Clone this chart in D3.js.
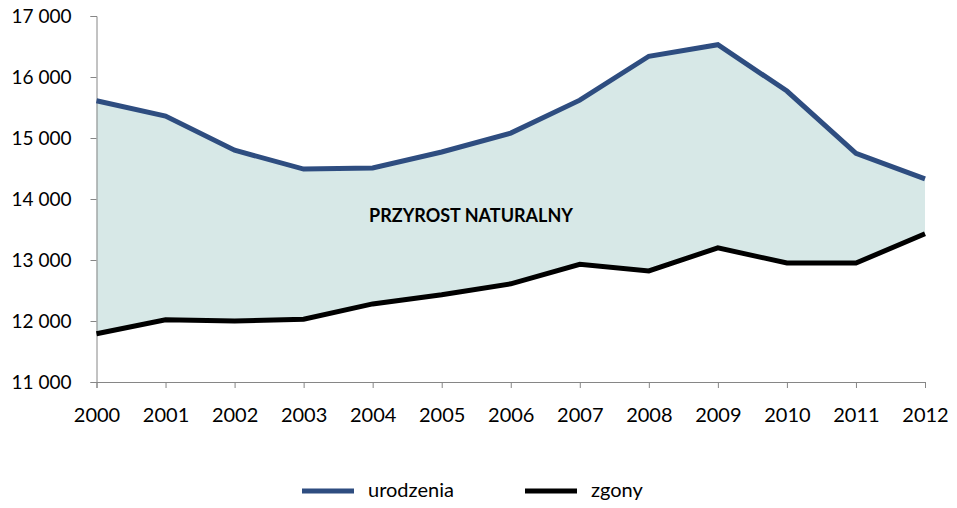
<!DOCTYPE html>
<html>
<head>
<meta charset="utf-8">
<script src="https://cdn.jsdelivr.net/npm/d3@7"></script>
<style>
  body { margin: 0; background: #fff; }
  text { font-family: Lato, "Open Sans", sans-serif; fill: #000; }
</style>
</head>
<body>
<div id="chart"></div>
<script>
// data
let years = [2000, 2001, 2002, 2003, 2004, 2005, 2006, 2007, 2008, 2009, 2010, 2011, 2012]
let urodzenia = [15610, 15360, 14800, 14490, 14510, 14770, 15080, 15620, 16340, 16530, 15770, 14750, 14330]
let zgony = [11790, 12020, 12000, 12030, 12280, 12430, 12610, 12930, 12820, 13200, 12950, 12950, 13430]
let yTicks = [11000, 12000, 13000, 14000, 15000, 16000, 17000]

let width = 957, height = 508

let svg = d3.select("#chart")
    .append("svg")
    .attr("width", width)
    .attr("height", height)

let x = d3.scaleLinear()
    .domain([2000, 2012])
    .range([96.5, 925])

let y = d3.scaleLinear()
    .domain([11000, 17000])
    .range([382, 16])

let data = years.map((yr, i) => ({year: yr, u: urodzenia[i], z: zgony[i]}))

// filled region between the two series
let area = d3.area()
    .x(d => x(d.year))
    .y0(d => y(d.z))
    .y1(d => y(d.u))

svg.append("path")
    .datum(data)
    .attr("d", area)
    .attr("fill", "#d7e8e7")

// y axis
let yAxis = d3.axisLeft(y)
    .tickValues(yTicks)
    .tickSize(6)
    .tickFormat(d => d3.format(",")(d).replace(",", " "))

let gy = svg.append("g")
    .attr("transform", "translate(96.5,0)")
    .call(yAxis)
gy.select(".domain").attr("stroke", "#868686")
gy.selectAll(".tick line").attr("stroke", "#868686")
gy.selectAll(".tick text")
    .attr("x", -25)
    .style("font-size", "19px")
    .style("font-family", "Lato, sans-serif")
    .attr("fill", "#000")

// x axis
let xAxis = d3.axisBottom(x)
    .tickValues(years)
    .tickSize(6)
    .tickFormat(d3.format("d"))

let gx = svg.append("g")
    .attr("transform", "translate(0,382)")
    .call(xAxis)
gx.select(".domain").attr("stroke", "#868686")
gx.selectAll(".tick line").attr("stroke", "#868686")
gx.selectAll(".tick text")
    .attr("y", 26)
    .style("font-size", "20px")
    .style("font-family", "Lato, sans-serif")
    .attr("fill", "#000")

// lines
let lineU = d3.line().x(d => x(d.year)).y(d => y(d.u))
let lineZ = d3.line().x(d => x(d.year)).y(d => y(d.z))

svg.append("path")
    .datum(data)
    .attr("d", lineU)
    .attr("fill", "none")
    .attr("stroke", "#2e4d80")
    .attr("stroke-width", 5)
    .attr("stroke-linejoin", "miter")

svg.append("path")
    .datum(data)
    .attr("d", lineZ)
    .attr("fill", "none")
    .attr("stroke", "#000")
    .attr("stroke-width", 5)
    .attr("stroke-linejoin", "miter")

// label inside the area
svg.append("text")
    .attr("x", 471)
    .attr("y", 222)
    .attr("text-anchor", "middle")
    .style("font-size", "18px")
    .style("font-weight", "bold")
    .text("PRZYROST NATURALNY")

// legend
let legendItems = [
    {name: "urodzenia", color: "#2e4d80", x: 302},
    {name: "zgony", color: "#000", x: 525}
]

let legend = svg.append("g")

legend.selectAll("line")
    .data(legendItems)
    .enter()
    .append("line")
    .attr("x1", d => d.x)
    .attr("x2", d => d.x + 52)
    .attr("y1", 491)
    .attr("y2", 491)
    .attr("stroke", d => d.color)
    .attr("stroke-width", 5)

legend.selectAll("text")
    .data(legendItems)
    .enter()
    .append("text")
    .attr("x", d => d.x + 66)
    .attr("y", 497)
    .style("font-size", "20px")
    .text(d => d.name)
</script>
</body>
</html>
